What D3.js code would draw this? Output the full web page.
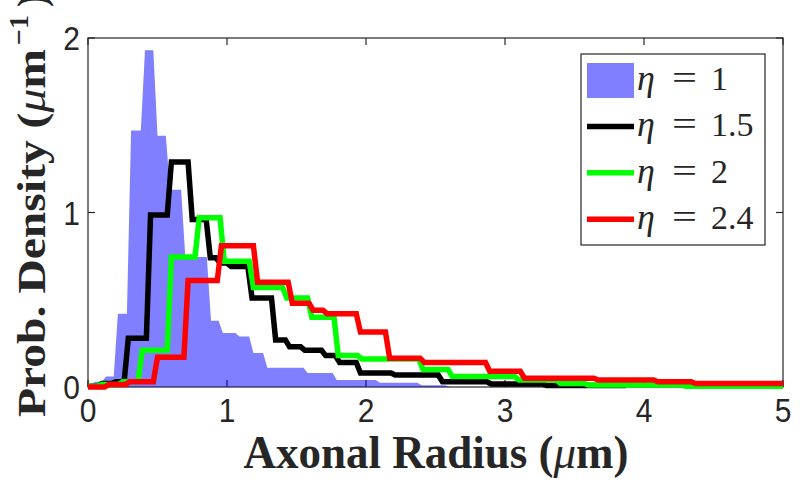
<!DOCTYPE html>
<html><head><meta charset="utf-8">
<script src="https://cdn.jsdelivr.net/npm/d3@7"></script>
<style>body{margin:0;background:#fff}</style>
</head><body><svg id="c" width="800" height="482"></svg>
<script>
// ---- data ----
const blueX = [0, 0.05, 0.13, 0.215, 0.31, 0.41, 0.50, 0.59, 0.70, 0.885, 0.97, 1.09, 1.19, 1.29, 1.58, 1.79, 2.1, 2.4, 2.6];
const blueY = [0.01, 0.03, 0.06, 0.42, 1.47, 1.93, 1.44, 1.13, 0.745, 0.38, 0.31, 0.29, 0.195, 0.11, 0.08, 0.04, 0.025, 0.01, 0];
const blueEnd = 2.7;
const blackX = [0, 0.1, 0.2, 0.29, 0.45, 0.60, 0.75, 0.88, 0.95, 1.03, 1.18, 1.35, 1.45, 1.56, 1.71, 1.81, 1.96, 2.21, 2.55, 2.9, 3.3];
const blackY = [0.005, 0.02, 0.03, 0.28, 0.985, 1.29, 0.96, 0.74, 0.71, 0.69, 0.51, 0.27, 0.23, 0.21, 0.18, 0.14, 0.08, 0.069, 0.03, 0.017, 0.008];
const blackEnd = 3.87;
const greenX = [0, 0.1, 0.25, 0.39, 0.60, 0.80, 0.98, 1.19, 1.43, 1.61, 1.80, 1.97, 2.41, 2.62, 3.1, 3.4, 3.6, 4.3];
const greenY = [0.005, 0.015, 0.03, 0.21, 0.745, 0.97, 0.72, 0.57, 0.51, 0.40, 0.18, 0.16, 0.10, 0.06, 0.04, 0.02, 0.012, 0.005];
const greenEnd = 5;
const redX = [0, 0.15, 0.3, 0.50, 0.72, 0.96, 1.22, 1.47, 1.62, 1.72, 1.96, 2.17, 2.42, 2.89, 3.14, 3.67, 4.1, 4.37];
const redY = [0.0, 0.015, 0.03, 0.17, 0.61, 0.81, 0.60, 0.48, 0.44, 0.42, 0.315, 0.165, 0.14, 0.09, 0.05, 0.04, 0.03, 0.02];
const redEnd = 5;
const xTickValues = [0, 1, 2, 3, 4, 5];
const yTickValues = [0, 1, 2];
const legendLabels = ["1", "1.5", "2", "2.4"];
const xLabel = "Axonal Radius (";
const yLabel = "Prob. Density (";

// ---- layout ----
const P = {l: 88, r: 783, t: 38, b: 387};
const x = d3.scaleLinear().domain([0, 5]).range([P.l, P.r]);
const y = d3.scaleLinear().domain([0, 2]).range([P.b, P.t]);
const svg = d3.select("#c");
const AX = "#262626";

function stairs(xs, vs, xEnd, d = 0.03) {
  const pts = [];
  for (let i = 0; i < xs.length; i++) {
    const last = i === xs.length - 1;
    const x1 = last ? xEnd : xs[i + 1];
    pts.push([xs[i], vs[i]]);
    pts.push([last ? x1 : x1 - d, vs[i]]);
  }
  return pts;
}

// axes box
svg.append("rect").attr("x", P.l).attr("y", P.t).attr("width", P.r - P.l).attr("height", P.b - P.t)
  .attr("fill", "none").attr("stroke", AX).attr("stroke-width", 1.2);
const tk = 7;
xTickValues.forEach(v => {
  svg.append("line").attr("x1", x(v)).attr("x2", x(v)).attr("y1", P.b).attr("y2", P.b - tk).attr("stroke", AX).attr("stroke-width", 1.2);
  svg.append("line").attr("x1", x(v)).attr("x2", x(v)).attr("y1", P.t).attr("y2", P.t + tk).attr("stroke", AX).attr("stroke-width", 1.2);
  svg.append("text").attr("transform", `translate(${x(v)},422) scale(1,1.12)`).attr("text-anchor", "middle")
    .attr("font-family", "Liberation Sans, Arial, sans-serif").attr("font-size", 30).attr("fill", AX).text(v);
});
yTickValues.forEach(v => {
  svg.append("line").attr("x1", P.l).attr("x2", P.l + tk).attr("y1", y(v)).attr("y2", y(v)).attr("stroke", AX).attr("stroke-width", 1.2);
  svg.append("line").attr("x1", P.r).attr("x2", P.r - tk).attr("y1", y(v)).attr("y2", y(v)).attr("stroke", AX).attr("stroke-width", 1.2);
  svg.append("text").attr("transform", `translate(80,${y(v) + 12}) scale(1,1.12)`).attr("text-anchor", "end")
    .attr("font-family", "Liberation Sans, Arial, sans-serif").attr("font-size", 30).attr("fill", AX).text(v);
});

// blue area
const area = d3.area().x(d => x(d[0])).y0(y(0)).y1(d => y(d[1]));
svg.append("path").datum(stairs(blueX, blueY, blueEnd)).attr("d", area).attr("fill", "rgba(0,0,255,0.5)");

const line = d3.line().x(d => x(d[0])).y(d => y(d[1]));
const series = [
  {xs: blackX, ys: blackY, end: blackEnd, c: "#000000"},
  {xs: greenX, ys: greenY, end: greenEnd, c: "#00ff00"},
  {xs: redX, ys: redY, end: redEnd, c: "#ff0000"}
];
series.forEach(s => {
  svg.append("path").datum(stairs(s.xs, s.ys, s.end)).attr("d", line)
    .attr("fill", "none").attr("stroke", s.c).attr("stroke-width", 5.5).attr("stroke-linejoin", "miter");
});

// x label
const xl = svg.append("text").attr("transform", "translate(436,468) scale(1,1.2)").attr("text-anchor", "middle")
  .attr("font-family", "Liberation Serif, Times New Roman, serif").attr("font-weight", "bold").attr("font-size", 38)
  .attr("fill", AX).attr("textLength", 385).attr("lengthAdjust", "spacingAndGlyphs");
xl.append("tspan").text(xLabel);
xl.append("tspan").attr("font-style", "italic").attr("font-weight", "normal").text("μ");
xl.append("tspan").text("m)");

// y label
const yg = svg.append("g").attr("transform", "translate(45,417) rotate(-90)");
const yl = yg.append("text").attr("x", 0).attr("y", 0)
  .attr("font-family", "Liberation Serif, Times New Roman, serif").attr("font-weight", "bold").attr("font-size", 41)
  .attr("fill", AX).attr("textLength", 368).attr("lengthAdjust", "spacingAndGlyphs");
yl.append("tspan").text(yLabel);
yl.append("tspan").attr("font-style", "italic").attr("font-weight", "normal").text("μ");
yl.append("tspan").text("m");
yg.append("text").attr("x", 372).attr("y", -17).attr("font-family", "Liberation Serif, serif").attr("font-weight", "bold")
  .attr("font-size", 28).attr("fill", AX).text("−1");
yg.append("text").attr("x", 410).attr("y", 0).attr("font-family", "Liberation Serif, serif").attr("font-weight", "bold")
  .attr("font-size", 41).attr("fill", AX).text(")");

// legend
svg.append("rect").attr("x", 581).attr("y", 54).attr("width", 184).attr("height", 191)
  .attr("fill", "#fff").attr("stroke", AX).attr("stroke-width", 1.2);
const legColors = ["rgba(0,0,255,0.5)", "#000000", "#00ff00", "#ff0000"];
legendLabels.forEach((lab, i) => {
  const cy = 80 + i * 46.4;
  if (i === 0) {
    svg.append("rect").attr("x", 587).attr("y", cy - 17).attr("width", 47).attr("height", 35).attr("fill", legColors[i]);
  } else {
    svg.append("line").attr("x1", 587).attr("x2", 634).attr("y1", cy).attr("y2", cy)
      .attr("stroke", legColors[i]).attr("stroke-width", 5.5);
  }
  const base = cy + 10;
  svg.append("text").attr("x", 637).attr("y", base).attr("font-family", "Liberation Serif, serif")
    .attr("font-style", "italic").attr("font-size", 36).attr("fill", AX).text("η");
  svg.append("text").attr("x", 672).attr("y", base - 1).attr("font-family", "Liberation Serif, serif")
    .attr("font-size", 34).attr("fill", AX).attr("textLength", 25).attr("lengthAdjust", "spacingAndGlyphs").text("=");
  svg.append("text").attr("x", 711).attr("y", base).attr("font-family", "Liberation Serif, serif")
    .attr("font-size", 34).attr("fill", AX).text(lab);
});
</script></body></html>
